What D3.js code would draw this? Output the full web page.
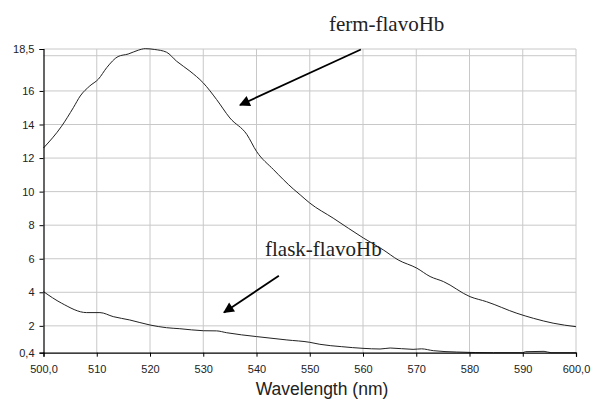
<!DOCTYPE html>
<html>
<head>
<meta charset="utf-8">
<script src="https://cdn.jsdelivr.net/npm/d3@7"></script>
<style>
  body { margin: 0; background: #fff; }
  svg { display: block; }
</style>
</head>
<body>
<svg width="600" height="406"></svg>
<script>
// ferm-flavoHb spectrum (wavelength nm, value)
var fermWl  = [500, 503.4, 505.6, 506.9, 508.7, 510.3, 511.9, 514, 515.9, 517.8, 519.1, 520.9, 523.1, 525, 527.5, 530, 532.5, 535, 538.2, 540, 543.2, 546.9, 548.2, 550, 554.4, 560.1, 563.8, 566.6, 570.1, 572.6, 575.1, 580.1, 583.2, 588.9, 592, 595.7, 600];
var fermVal = [12.6, 13.9, 15.0, 15.7, 16.3, 16.7, 17.4, 18.05, 18.2, 18.43, 18.52, 18.47, 18.31, 17.77, 17.18, 16.48, 15.49, 14.39, 13.4, 12.4, 11.31, 10.16, 9.81, 9.32, 8.42, 7.23, 6.53, 5.93, 5.44, 4.94, 4.64, 3.74, 3.44, 2.75, 2.45, 2.16, 1.95];

// flask-flavoHb spectrum
var flaskWl  = [500, 503.4, 508.1, 510.6, 513.1, 516.2, 520, 523.1, 525.6, 530, 532.5, 534.4, 540, 545.7, 550, 551.9, 556, 560, 563.2, 565.1, 569.4, 571, 573.2, 577.6, 584.5, 590, 590.5, 594, 595.3, 600];
var flaskVal = [4.04, 3.35, 2.79, 2.79, 2.55, 2.35, 2.05, 1.89, 1.83, 1.71, 1.7, 1.59, 1.36, 1.16, 1.02, 0.9, 0.76, 0.66, 0.62, 0.68, 0.6, 0.63, 0.52, 0.44, 0.4, 0.4, 0.46, 0.48, 0.4, 0.4];

var xTicks = [500, 510, 520, 530, 540, 550, 560, 570, 580, 590, 600];
var yTicks = [0.4, 2, 4, 6, 8, 10, 12, 14, 16, 18.5];
var yGrid  = [2, 4, 6, 8, 10, 12, 14, 16, 18.1, 18.5];

// annotations in data units: label position, arrow start, arrow tip
var fermNote  = { text: "ferm-flavoHb",  x: 553.6, y: 19.55, x1: 559.6, y1: 18.47, x2: 536.9, y2: 15.16 };
var flaskNote = { text: "flask-flavoHb", x: 541.6, y: 6.17,  x1: 544.2, y1: 4.98,  x2: 533.9, y2: 2.8 };

(function() {
var svg = d3.select("svg");
var plotLeft = 43.5, plotRight = 576, plotTop = 49, plotBottom = 352.7;

var x = d3.scaleLinear().domain([500, 600]).range([plotLeft, plotRight]);
var y = d3.scaleLinear().domain([0.4, 18.5]).range([plotBottom, plotTop]);

function fmt(v) {
    if (v === 500 || v === 600) return d3.format(".1f")(v).replace(".", ",");
    return String(v).replace(".", ",");
}

// grid
svg.append("g").selectAll("line").data(xTicks.slice(1)).join("line")
    .attr("x1", d => x(d)).attr("x2", d => x(d))
    .attr("y1", plotTop).attr("y2", plotBottom)
    .attr("stroke", "#c8c8c8").attr("stroke-width", 1);
svg.append("g").selectAll("line").data(yGrid).join("line")
    .attr("x1", plotLeft).attr("x2", plotRight)
    .attr("y1", d => y(d)).attr("y2", d => y(d))
    .attr("stroke", "#c8c8c8").attr("stroke-width", 1);

// curves
var line = d3.line().x(d => x(d[0])).y(d => y(d[1])).curve(d3.curveMonotoneX);
svg.append("path")
    .datum(d3.zip(fermWl, fermVal))
    .attr("fill", "none").attr("stroke", "#222").attr("stroke-width", 1)
    .attr("d", line);
svg.append("path")
    .datum(d3.zip(flaskWl, flaskVal))
    .attr("fill", "none").attr("stroke", "#222").attr("stroke-width", 1)
    .attr("d", line);

// axes
var xAxis = svg.append("g")
    .attr("transform", "translate(0," + plotBottom + ")")
    .call(d3.axisBottom(x).tickValues(xTicks).tickFormat(fmt).tickSize(4).tickPadding(9));
var yAxis = svg.append("g")
    .attr("transform", "translate(" + plotLeft + ",0)")
    .call(d3.axisLeft(y).tickValues(yTicks).tickFormat(fmt).tickSize(4).tickPadding(5));
[xAxis, yAxis].forEach(function(a) {
    a.select(".domain").attr("stroke", "#000").attr("stroke-width", 1.2);
    a.selectAll(".tick line").attr("stroke", "#000");
    a.selectAll("text")
        .attr("fill", "#222")
        .style("font-family", "'Liberation Sans', Arial, sans-serif")
        .style("font-size", "11px");
});

svg.append("text")
    .attr("x", 322).attr("y", 395)
    .attr("text-anchor", "middle")
    .style("font-family", "'Liberation Sans', Arial, sans-serif")
    .style("font-size", "17.5px")
    .attr("fill", "#222")
    .text("Wavelength (nm)");

// arrows
svg.append("defs").append("marker")
    .attr("id", "head")
    .attr("viewBox", "0 0 10 10")
    .attr("refX", 9).attr("refY", 5)
    .attr("markerWidth", 7).attr("markerHeight", 6)
    .attr("markerUnits", "strokeWidth")
    .attr("orient", "auto")
    .append("path").attr("d", "M0,0 L10,5 L0,10 Z").attr("fill", "#000");

[fermNote, flaskNote].forEach(function(n) {
    svg.append("line")
        .attr("x1", x(n.x1)).attr("y1", y(n.y1))
        .attr("x2", x(n.x2)).attr("y2", y(n.y2))
        .attr("stroke", "#000").attr("stroke-width", 1.8)
        .attr("marker-end", "url(#head)");
    svg.append("text")
        .attr("x", x(n.x)).attr("y", y(n.y))
        .style("font-family", "'Liberation Serif', 'Times New Roman', serif")
        .style("font-size", "21px")
        .attr("fill", "#222")
        .text(n.text);
});
})();
</script>
</body>
</html>
